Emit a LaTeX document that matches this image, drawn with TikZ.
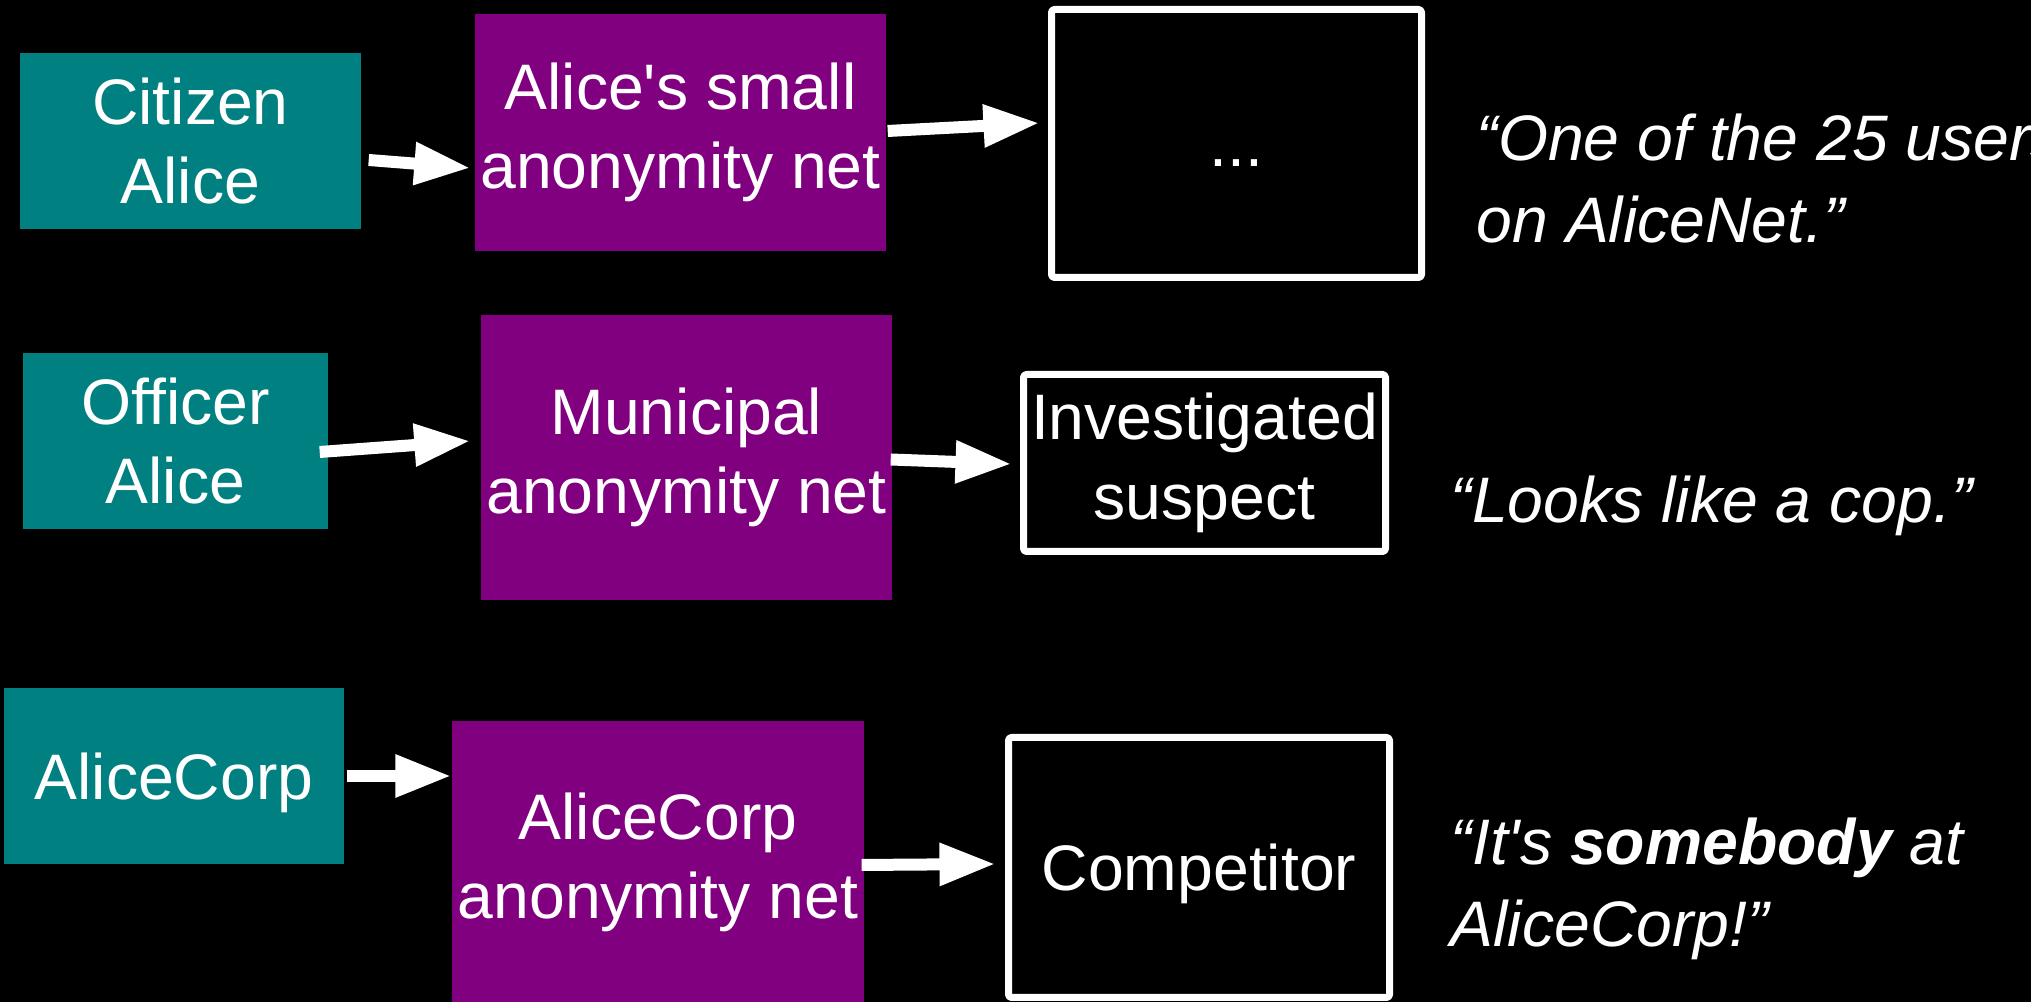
\documentclass[tikz,border=0pt]{standalone}
\usepackage{fontspec}
\setmainfont{Liberation Sans}[Ligatures=TeXOff]
\usetikzlibrary{arrows.meta}
\definecolor{tealbox}{RGB}{0,128,128}
\definecolor{purplebox}{RGB}{128,0,128}
\begin{document}
\begin{tikzpicture}[line join=round,>={Triangle[length=0.56cm,width=0.40cm]},
	font=\fontsize{18.3pt}{22.6pt}\selectfont,text=white,
	who/.style={fill=tealbox,align=center,inner sep=0pt},
	net/.style={fill=purplebox,align=center,inner sep=0pt},
	seen/.style={draw=white,line width=0.07cm,rounded corners=0.03cm,align=center,inner sep=0pt},
	oneline/.style={text height=0.47cm,text depth=0pt},
	quote/.style={anchor=base west,align=left,inner sep=0pt,font=\fontsize{18.3pt}{23.4pt}\selectfont\itshape},
	arr/.style={->,white,line width=0.12cm}]
	\fill[black] (0,0) rectangle (20.31,10.02);
	\useasboundingbox (0,0) rectangle (20.31,10.02);
	% who -> network -> what the far end sees
	\node[who,minimum width=3.41cm,minimum height=1.76cm] (cit) at (1.905,8.61) {Citizen\\Alice};
	\node[net,minimum width=4.11cm,minimum height=2.37cm] (small) at (6.805,8.695) {Alice's small\\anonymity net};
	\node[seen,oneline,minimum width=3.70cm,minimum height=2.68cm] (dots) at (12.365,8.585) {...};
	\node[quote] (q1) at (14.76,7.59) {“One of the 25 users\\on AliceNet.”};
	\node[who,minimum width=3.05cm,minimum height=1.76cm] (off) at (1.755,5.61) {Officer\\Alice};
	\node[net,minimum width=4.11cm,minimum height=2.85cm] (muni) at (6.865,5.445) {Municipal\\anonymity net};
	\node[seen,minimum width=3.62cm,minimum height=1.77cm] (inv) at (12.045,5.39) {Investigated\\suspect};
	\node[quote] (q2) at (14.50,4.79) {“Looks like a cop.”};
	\node[who,oneline,minimum width=3.40cm,minimum height=1.76cm] (corp) at (1.74,2.26) {AliceCorp};
	\node[net,minimum width=4.12cm,minimum height=2.83cm] (corpnet) at (6.58,1.395) {AliceCorp\\anonymity net};
	\node[seen,oneline,minimum width=3.81cm,minimum height=2.60cm] (comp) at (11.99,1.345) {Competitor};
	\node[quote] (q3) at (14.50,0.55) {“It's \textbf{somebody} at\\AliceCorp!”};
	\draw[arr] ([xshift=0.07cm,yshift=-0.19cm]cit.east) -- ([xshift=-0.04cm,yshift=-0.355cm]small.west);
	\draw[arr] ([xshift=0.01cm,yshift=0.015cm]small.east) -- ([xshift=-0.085cm,yshift=0.205cm]dots.west);
	\draw[arr] ([xshift=-0.09cm,yshift=-0.11cm]off.east) -- ([xshift=-0.10cm,yshift=0.165cm]muni.west);
	\draw[arr] ([xshift=-0.02cm,yshift=-0.02cm]muni.east) -- ([xshift=-0.085cm,yshift=-0.01cm]inv.west);
	\draw[arr] ([xshift=0.02cm]corp.east) -- (corp.east -| corpnet.west);
	\draw[arr] ([xshift=-0.03cm,yshift=-0.025cm]corpnet.east) -- ([xshift=-0.095cm,yshift=0.035cm]comp.west);
\end{tikzpicture}
\end{document}
